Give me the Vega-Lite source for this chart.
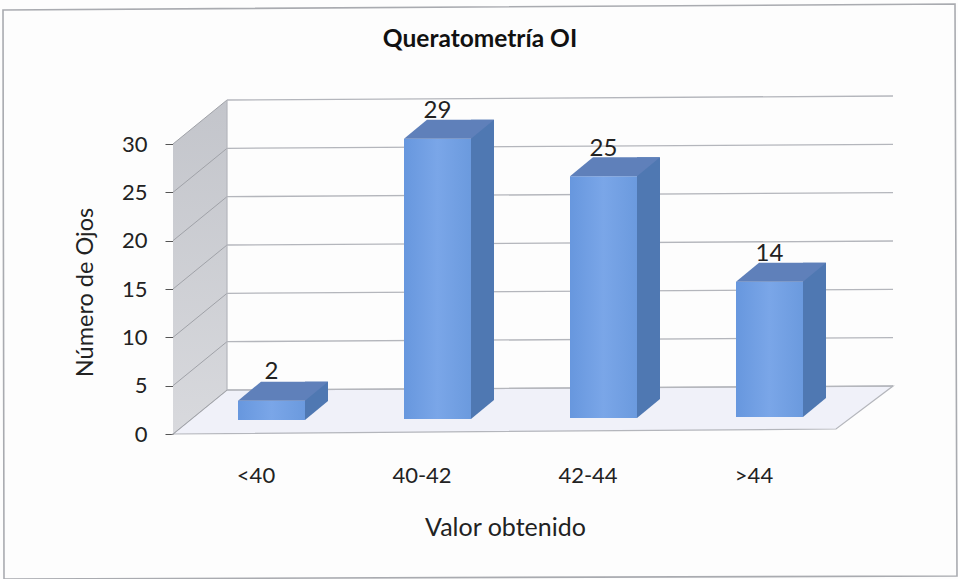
{
  "$schema": "https://vega.github.io/schema/vega-lite/v6.json",
  "width": 664,
  "height": 290,
  "autosize": {"type": "none"},
  "padding": {"left": 173, "top": 144, "right": 121, "bottom": 145},
  "background": "#fdfdfd",
  "config": {"view": {"stroke": null}, "font": "Lato"},
  "title": {
    "text": "Queratometría OI",
    "font": "Lato",
    "fontSize": 24.5,
    "fontWeight": "bold",
    "color": "#111111",
    "anchor": "middle",
    "frame": "group",
    "dx": -25,
    "offset": -52
  },
  "datasets": {
    "ojos": [
      {"categoria": "<40", "valor": 2},
      {"categoria": "40-42", "valor": 29},
      {"categoria": "42-44", "valor": 25},
      {"categoria": ">44", "valor": 14}
    ],
    "niveles": [
      {"nivel": 0}, {"nivel": 5}, {"nivel": 10}, {"nivel": 15},
      {"nivel": 20}, {"nivel": 25}, {"nivel": 30}
    ]
  },
  "layer": [
    {
      "description": "Outer chart frame",
      "data": {"values": [{"nivel": 0}]},
      "mark": {
        "type": "point",
        "shape": "M-170,-424 L782,-430 L784,142 L-169,145 Z",
        "size": 4,
        "filled": false,
        "opacity": 1,
        "stroke": "#a9abb0",
        "strokeWidth": 1.6
      },
      "encoding": {
        "x": {"value": 0},
        "y": {
          "field": "nivel",
          "type": "quantitative",
          "scale": {"domain": [0, 30]},
          "axis": {
            "values": [0, 5, 10, 15, 20, 25, 30],
            "title": "Número de Ojos",
            "titleFont": "Lato",
            "titleFontSize": 23.5,
            "titleFontWeight": "normal",
            "titleColor": "#222222",
            "titleX": -76,
            "titleY": 148,
            "labelFont": "Lato",
            "labelFontSize": 22,
            "labelColor": "#222222",
            "labelPadding": 18,
            "tickSize": 8,
            "tickColor": "#555555",
            "domainColor": "#9a9ca2",
            "grid": false
          }
        }
      }
    },
    {
      "description": "Floor",
      "data": {"values": [{"nivel": 0}]},
      "mark": {
        "type": "point",
        "shape": "M0,0 L54,-44 L720,-48 L663,-5 Z",
        "size": 4,
        "filled": true,
        "opacity": 1,
        "fill": "#f0f1f9",
        "stroke": "#b4b6bc",
        "strokeWidth": 1.2
      },
      "encoding": {"x": {"value": 0}, "y": {"field": "nivel", "type": "quantitative"}}
    },
    {
      "description": "Left wall",
      "data": {"values": [{"nivel": 0}]},
      "mark": {
        "type": "point",
        "shape": "M0,0 L54,-44 L54,-334 L0,-290 Z",
        "size": 4,
        "filled": true,
        "opacity": 1,
        "fill": {
          "gradient": "linear",
          "x1": 0, "y1": 0, "x2": 0, "y2": 1,
          "stops": [
            {"offset": 0, "color": "#c3c5cb"},
            {"offset": 1, "color": "#d8d9dd"}
          ]
        }
      },
      "encoding": {"x": {"value": 0}, "y": {"field": "nivel", "type": "quantitative"}}
    },
    {
      "description": "Gridlines on the back wall",
      "data": {"name": "niveles"},
      "mark": {
        "type": "point",
        "shape": "M54,-44 L720,-48",
        "size": 4,
        "filled": false,
        "opacity": 1,
        "stroke": "#b4b6bc",
        "strokeWidth": 1.3
      },
      "encoding": {"x": {"value": 0}, "y": {"field": "nivel", "type": "quantitative"}}
    },
    {
      "description": "Gridlines on the left wall",
      "data": {"name": "niveles"},
      "mark": {
        "type": "point",
        "shape": "M0,0 L54,-44",
        "size": 4,
        "filled": false,
        "opacity": 1,
        "stroke": "#a0a2a8",
        "strokeWidth": 1
      },
      "encoding": {"x": {"value": 0}, "y": {"field": "nivel", "type": "quantitative"}}
    },
    {
      "description": "Back edge of the left wall",
      "data": {"values": [{"nivel": 0}]},
      "mark": {
        "type": "point",
        "shape": "M54,-44 L54,-334",
        "size": 4,
        "filled": false,
        "opacity": 1,
        "stroke": "#b4b6bc",
        "strokeWidth": 1.2
      },
      "encoding": {"x": {"value": 0}, "y": {"field": "nivel", "type": "quantitative"}}
    },
    {
      "description": "Side face of each column",
      "data": {"name": "ojos"},
      "mark": {
        "type": "bar",
        "size": 23,
        "fill": "#4f78b2",
        "xOffset": 60.5,
        "yOffset": {"expr": "-33-scale('x',datum.categoria)*0.006"}
      },
      "encoding": {
        "x": {
          "field": "categoria",
          "type": "nominal",
          "sort": null,
          "scale": {"type": "band", "domain": ["<40", "40-42", "42-44", ">44"], "paddingInner": 0, "paddingOuter": 0},
          "axis": {
            "title": "Valor obtenido",
            "titleFont": "Lato",
            "titleFontSize": 25,
            "titleFontWeight": "normal",
            "titleColor": "#222222",
            "titleY": 81.5,
            "labelFont": "Lato",
            "labelFontSize": 22,
            "labelColor": "#222222",
            "labelAngle": 0,
            "labelPadding": 31,
            "ticks": false,
            "domain": false,
            "grid": false
          }
        },
        "y": {"field": "valor", "type": "quantitative"}
      }
    },
    {
      "description": "Lower end of each side face",
      "data": {"name": "ojos"},
      "mark": {
        "type": "point",
        "shape": "M49,0 L72,-19 L49,-19 Z",
        "size": 4,
        "filled": true,
        "opacity": 1,
        "fill": "#4f78b2",
        "yOffset": {"expr": "-14-scale('x',datum.categoria)*0.006"}
      },
      "encoding": {
        "x": {"field": "categoria", "type": "nominal", "sort": null},
        "y": {"datum": 0, "type": "quantitative"}
      }
    },
    {
      "description": "Front face of each column",
      "data": {"name": "ojos"},
      "mark": {
        "type": "bar",
        "size": 67,
        "xOffset": 15.5,
        "yOffset": {"expr": "-14-scale('x',datum.categoria)*0.006"},
        "fill": {
          "gradient": "linear",
          "x1": 0, "y1": 0, "x2": 1, "y2": 0,
          "stops": [
            {"offset": 0, "color": "#6797de"},
            {"offset": 0.5, "color": "#7aa6e8"},
            {"offset": 1, "color": "#6b9ade"}
          ]
        }
      },
      "encoding": {
        "x": {"field": "categoria", "type": "nominal", "sort": null},
        "y": {"field": "valor", "type": "quantitative"}
      }
    },
    {
      "description": "Top face of each column",
      "data": {"name": "ojos"},
      "mark": {
        "type": "point",
        "shape": "M-18,0 L49,0 L72,-19 L5,-19 Z",
        "size": 4,
        "filled": true,
        "opacity": 1,
        "fill": "#5f80ba",
        "yOffset": {"expr": "-14-scale('x',datum.categoria)*0.006"}
      },
      "encoding": {
        "x": {"field": "categoria", "type": "nominal", "sort": null},
        "y": {"field": "valor", "type": "quantitative"}
      }
    },
    {
      "description": "Value above each column",
      "data": {"name": "ojos"},
      "mark": {
        "type": "text",
        "font": "Lato",
        "fontSize": 24,
        "color": "#222222",
        "baseline": "middle",
        "xOffset": 15.5,
        "yOffset": {"expr": "-42.5-scale('x',datum.categoria)*0.004"}
      },
      "encoding": {
        "x": {"field": "categoria", "type": "nominal", "sort": null},
        "y": {"field": "valor", "type": "quantitative"},
        "text": {"field": "valor", "type": "quantitative"}
      }
    }
  ]
}
